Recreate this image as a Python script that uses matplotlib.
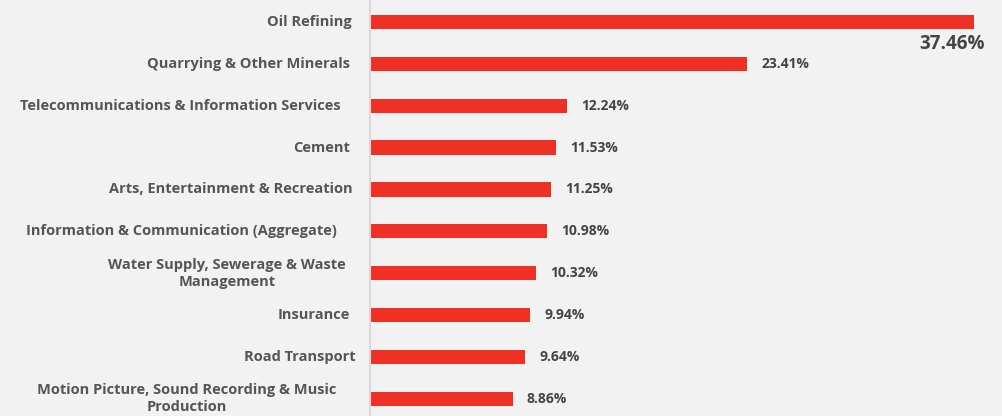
import matplotlib.pyplot as plt

categories = ['Oil Refining', 'Quarrying & Other Minerals', 'Telecommunications & Information Services',
              'Cement', 'Arts, Entertainment & Recreation', 'Information & Communication (Aggregate)',
              'Water Supply, Sewerage & Waste\nManagement', 'Insurance', 'Road Transport',
              'Motion Picture, Sound Recording & Music\nProduction']
values = [37.46, 23.41, 12.24, 11.53, 11.25, 10.98, 10.32, 9.94, 9.64, 8.86]

# gap (px) between label right edge and the axis line, as in the original layout
label_gap = [18, 20, 29, 20, 17, 33, 24, 20, 14, 34]

bg = '#f2f2f2'
red = '#ee3124'

plt.rcParams['font.family'] = ['Open Sans', 'DejaVu Sans']

fig = plt.figure(figsize=(10.02, 4.16), dpi=100, facecolor=bg)
ax = fig.add_axes([370 / 1002, 0, 632 / 1002, 1])
ax.set_facecolor(bg)

y = list(range(len(categories)))
ax.barh(y, values, height=0.34, color=red, left=0)

ax.set_xlim(0, 39.2)
ax.set_ylim(9.41, -0.525)

for s in ['top', 'right', 'bottom']:
    ax.spines[s].set_visible(False)
ax.spines['left'].set_color('#d9d9d9')
ax.spines['left'].set_linewidth(1.5)
ax.set_xticks([])
ax.set_yticks([])

for i, (c, v) in enumerate(zip(categories, values)):
    ax.annotate(c, xy=(0, i), xytext=(-label_gap[i], 0), textcoords='offset pixels',
                ha='right', va='center', multialignment='center',
                fontsize=10.5, fontweight='bold', color='#555555', linespacing=1.3)
    if i == 0:
        ax.annotate(f'{v:.2f}%', xy=(v, i), xytext=(11, -22), textcoords='offset pixels',
                    ha='right', va='center', fontsize=13.5, fontweight='bold', color='#444444')
    else:
        ax.annotate(f'{v:.2f}%', xy=(v, i), xytext=(14, 0), textcoords='offset pixels',
                    ha='left', va='center', fontsize=10, fontweight='bold', color='#444444')

fig.savefig('out.png', dpi=100, facecolor=bg)
